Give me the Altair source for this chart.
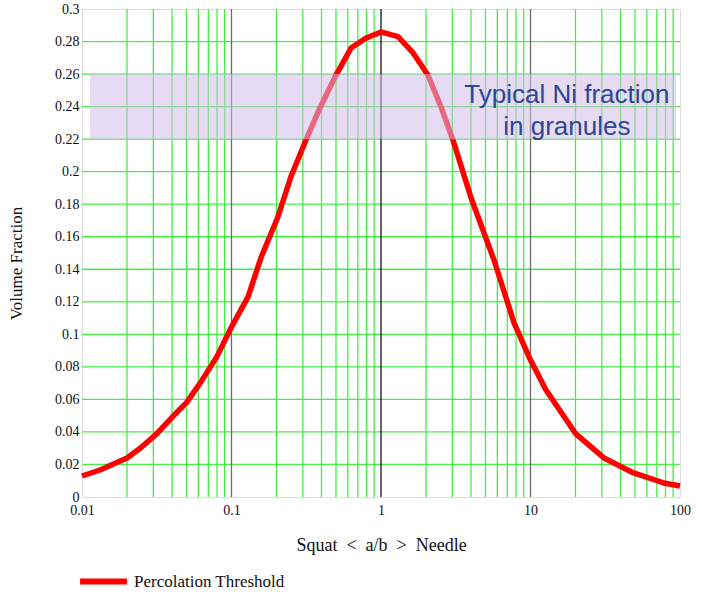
import altair as alt
import pandas as pd

# Curve
ratio = [0.01, 0.0132, 0.02, 0.0245, 0.0317, 0.04, 0.05, 0.0617, 0.0795, 0.1, 0.129, 0.158,
         0.204, 0.25, 0.315, 0.385, 0.5, 0.63, 0.79, 1.0, 1.3, 1.64, 2.06, 2.52, 3.03, 4.0,
         5.7, 7.76, 10, 12.7, 20, 31, 49, 78, 100]
fraction = [0.0129, 0.0166, 0.024, 0.030, 0.039, 0.049, 0.058, 0.070, 0.086, 0.1045, 0.123, 0.1475,
            0.172, 0.197, 0.2195, 0.238, 0.2594, 0.276, 0.282, 0.2859, 0.283, 0.273, 0.2594, 0.2398, 0.2195, 0.184,
            0.1457, 0.107, 0.0842, 0.0658, 0.039, 0.024, 0.0148, 0.0086, 0.0068]

minor_x = [k * 10.0 ** d for d in range(-2, 2) for k in range(2, 10)]
grid_y = [0.02 * i for i in range(1, 15)]
decade_gray = [0.1, 10]
decade_black = [1]
x_ticks = [0.01, 0.1, 1, 10, 100]
y_ticks = [0, 0.02, 0.04, 0.06, 0.08, 0.1, 0.12, 0.14, 0.16, 0.18, 0.2, 0.22, 0.24, 0.26, 0.28, 0.3]

band_x = [0.0113, 94]
band_y = [0.22, 0.26]
note_lines = ["Typical Ni fraction", "in granules"]
note_x = [17.5, 17.5]
note_y = [0.2471, 0.2275]

NB = "\u00a0"
x_title = f"Squat{NB}{NB}<{NB}{NB}a/b{NB}{NB}>{NB}{NB}Needle"

curve = pd.DataFrame({"ratio": ratio, "fraction": fraction, "series": "Percolation Threshold"})

xs = alt.Scale(type="log", domain=[0.01, 100], nice=False)
ys = alt.Scale(domain=[0, 0.3], nice=False)

xaxis = alt.Axis(values=x_ticks, format="~g", grid=False, ticks=False,
                 labelFont="Liberation Serif", labelFontSize=14, labelColor="#111",
                 labelPadding=6, domain=False, labelOverlap=False, labelFlush=False, labelBound=False,
                 title=x_title, titleFont="Liberation Serif",
                 titleFontSize=18, titleFontWeight="normal", titleColor="#111", titlePadding=19)
yaxis = alt.Axis(values=y_ticks, labelExpr="format(datum.value, '.2~f')",
                 grid=False, ticks=False, domain=False, labelOverlap=False, labelFlush=False, labelBound=False,
                 labelSeparation=0,
                 labelFont="Liberation Serif", labelFontSize=14, labelColor="#111", labelPadding=3,
                 title="Volume Fraction", titleFont="Liberation Serif", titleFontSize=17,
                 titleFontWeight="normal", titleColor="#111", titleX=-57, titleY=254)

vgrid = alt.Chart(pd.DataFrame({"x": minor_x})).mark_rule(color="#44ee44", strokeWidth=1.3).encode(
    x=alt.X("x:Q", scale=xs, axis=xaxis))
hgrid = alt.Chart(pd.DataFrame({"y": grid_y})).mark_rule(color="#44ee44", strokeWidth=1.3).encode(
    y=alt.Y("y:Q", scale=ys, axis=yaxis))
dgray = alt.Chart(pd.DataFrame({"x": decade_gray})).mark_rule(color="#6a6a6a", strokeWidth=1.3).encode(
    x=alt.X("x:Q", scale=xs, axis=xaxis))
dblack = alt.Chart(pd.DataFrame({"x": decade_black})).mark_rule(color="#000000", strokeWidth=1.2).encode(
    x=alt.X("x:Q", scale=xs, axis=xaxis))

line = alt.Chart(curve).mark_line(strokeWidth=5.5, strokeJoin="round").encode(
    x=alt.X("ratio:Q", scale=xs, axis=xaxis),
    y=alt.Y("fraction:Q", scale=ys, axis=yaxis),
    color=alt.Color("series:N", scale=alt.Scale(range=["#ff0000"]),
                    legend=alt.Legend(title=None, orient="none", legendX=-5, legendY=546,
                                      padding=0, symbolType="stroke", symbolSize=2200, symbolStrokeWidth=6,
                                      labelFont="Liberation Serif", labelFontSize=17,
                                      labelColor="#111", labelOffset=4)))

band = alt.Chart(pd.DataFrame({"x1": [band_x[0]], "x2": [band_x[1]],
                               "y1": [band_y[0]], "y2": [band_y[1]]})).mark_rect(
    color="#d2bee9", opacity=0.55).encode(
    x=alt.X("x1:Q", scale=xs, axis=xaxis), x2="x2:Q",
    y=alt.Y("y1:Q", scale=ys, axis=yaxis), y2="y2:Q")

note = alt.Chart(pd.DataFrame({"t": note_lines, "x": note_x, "y": note_y})).mark_text(
    font="Liberation Sans", fontSize=26, color="#2b4796", align="center", baseline="middle").encode(
    x=alt.X("x:Q", scale=xs, axis=xaxis), y=alt.Y("y:Q", scale=ys, axis=yaxis), text="t:N")

chart = alt.layer(vgrid, hgrid, dgray, dblack, line, band, note).properties(
    width=598, height=488,
    autosize=alt.AutoSizeParams(type="none"),
    padding={"left": 82, "top": 9, "right": 22, "bottom": 95},
).configure_view(stroke="#000000", strokeWidth=1.5).configure_axis(labelOverlap=False).configure(background="white")

chart.save("out.html", embed_options={"renderer": "svg", "actions": False})
